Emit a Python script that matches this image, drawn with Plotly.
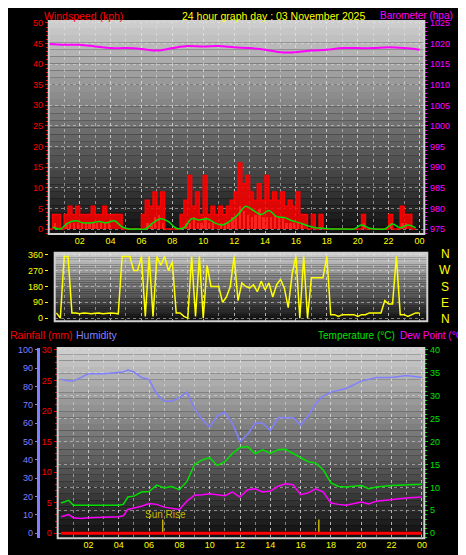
import numpy as np
import plotly.graph_objects as go

W, H = 466, 555
# ---------------- data ----------------
gust = [0,3.5,3.5,0, 3.5,5.5,3.5,5.5, 3.5,3.5,3.5,5.5, 3.5,3.5,5.5,3.5,
        3.5,3.5,3.5,0, 0,0,0,0, 3.5,7,5.5,9, 5.5,9,0,0,
        0,0,3.5,7, 13,5.5,9,3.5, 13,3.5,5.5,3.5, 5.5,3.5,5.5,7,
        9,16,11,13, 9,7,11,7, 13,7,9,7, 9,5.5,7,5.5,
        9,3.5,3.5,0, 3.5,0,3.5,0, 0,0,0,0, 0,0,0,0,
        0,3.5,0,0, 0,0,0,0, 3.5,0,0,5.5, 3.5,3.5,0,0]
speed = [0,1.5,0,0, 1.5,1.5,1.5,1.5, 1.5,1.5,1.5,1.5, 1.5,1.5,1.5,1.5,
         0,0,0,0, 0,0,0,0, 0,1.5,1.5,3, 3.5,1.5,0,0,
         0,0,0,1.5, 1.5,3,1.5,1.5, 3,1.5,1.5,0, 1.5,1.5,1.5,3,
         3,5.5,4.5,3.5, 3,3.5,5,3, 3,3,3.5,3, 3,1.5,1.5,1.5,
         1.5,1.5,0,0, 0,0,0,0, 0,0,0,0, 0,0,0,0,
         0,1.5,0,0, 0,0,0,0, 1.5,0,0,1.5, 1.5,0,0,0]
avg_wind = [0.5,0,1.5,2.0,1.5,1.5,1.8,1.5,2,0.5,0,0,0,1.5,2.5,1.8,0.2,0.3,2.5,2.2,
            2.5,1.5,1,2,3.5,5.5,4.5,3.5,4.5,3,2.8,2,1.5,0.8,0.3,0.2,0,0,0,0,
            1,0.2,0,0,1.2,0.3,1,0.3]
baro_hours = list(range(25))
baro = [1019.9,1019.7,1019.7,1019.3,1018.9,1018.9,1018.7,1018.3,1018.9,1019.4,1019.3,
        1019.4,1019.1,1018.9,1018.5,1017.9,1017.9,1018.3,1018.5,1018.9,1018.9,1018.9,
        1019.1,1018.9,1018.5]
wind_dir = [30,0,
            350,350,30,30, 25,30,28,25, 28,30,25,28, 30,28,25,350, 350,350,270,270,
            350,10,350,10, 350,300,350,270, 320,30,30,10, 0,350,10,350, 0,300,180,180,
            180,90,120,180, 350,100,200,180, 170,190,150,210, 160,200,120,190, 220,170,60,250,
            350,0,350,0, 230,230,230,230, 350,20,20,10, 20,20,20,20, 10,20,20,30,
            30,30,30,100, 80,80,350,20, 20,10,20,30, 30]
th_hours = [0.2,0.7,1,1.5,2,3,4,4.3,4.6,5,5.5,6,6.5,7,7.5,8,8.5,9,9.5,10,10.5,11,11.5,12,
            12.5,13,13.5,14,14.5,15,15.5,16,16.5,17,17.5,18,18.5,19,20,20.5,21,22,23,24]
humidity = [84,83,83,85,87,87,88,88,89,88,85,84,76,72,72,74,77,68,62,58,64,66,60,50,
            54,60,60,56,63,63,63,59,64,71,75,77,78,79,83,84,85,85,86,85]
temperature = [6.6,7.2,6.1,6.1,6.1,6.2,6.1,6.3,7.9,8.1,9,9.1,10.5,9.9,10.2,9.5,11.3,15,16,16.5,
               14.8,15.6,17.4,18.7,18.9,17.4,18.2,17.4,18.2,18.3,17.4,16.4,15.6,15.3,13.8,11,
               10.2,10.1,10.4,9.7,10.1,10.4,10.6,10.7]
dewpoint = [3.6,4.1,3.4,3.2,3.4,3.5,3.6,3.8,5.2,5.5,5.9,6.5,6.3,5.7,5.5,5.2,7,8.3,8.4,8.6,
            8.4,8.2,9,7.9,9.5,9.7,9,9.2,10.2,10.8,10.6,8.4,8.8,9.7,9,6.6,6.3,6.1,6.8,6.4,
            7,7.4,7.7,7.9]
rain_hours = [0.2, 24]
rainfall = [0, 0]
sun_events = [6.9, 17.2]
hour_ticks = [2,4,6,8,10,12,14,16,18,20,22,24]
hour_labels = ['02','04','06','08','10','12','14','16','18','20','22','00']

t15 = np.arange(len(gust)) * 0.25
t30 = np.arange(len(avg_wind)) * 0.5 + 0.25
tdir = 0.5 + np.arange(len(wind_dir)) * 0.25

def dx(a, b): return [a / W, b / W]
def dy(top, bot): return [1 - bot / H, 1 - top / H]

FONT = "Liberation Sans"
YEL = "#ffff00"; RED = "#ff0000"; MAG = "#ff00ff"; GRN = "#00e000"; BLU = "#8080ff"

fig = go.Figure()
fig.add_trace(go.Scatter(x=t15, y=gust, mode='lines', line=dict(color=RED, width=1.5, shape='hv'),
                         fill='tozeroy', fillcolor='rgba(255,0,0,0.85)', xaxis='x', yaxis='y'))
fig.add_trace(go.Bar(x=t15 + 0.125, y=speed, width=0.15, marker=dict(color='#d8f0d8', line_width=0),
                     xaxis='x', yaxis='y'))
fig.add_trace(go.Scatter(x=t30, y=avg_wind, mode='lines', line=dict(color=GRN, width=1.5, shape='spline'),
                         xaxis='x', yaxis='y'))
fig.add_trace(go.Scatter(x=baro_hours, y=baro, mode='lines', line=dict(color=MAG, width=2, shape='spline'),
                         xaxis='x', yaxis='y2'))
fig.add_trace(go.Scatter(x=tdir, y=wind_dir, mode='lines', line=dict(color=YEL, width=1.5),
                         xaxis='x2', yaxis='y3'))
fig.add_trace(go.Scatter(x=th_hours, y=humidity, mode='lines', line=dict(color=BLU, width=1.5),
                         xaxis='x3', yaxis='y5'))
fig.add_trace(go.Scatter(x=th_hours, y=temperature, mode='lines', line=dict(color=GRN, width=1.5),
                         xaxis='x3', yaxis='y4'))
fig.add_trace(go.Scatter(x=th_hours, y=dewpoint, mode='lines', line=dict(color=MAG, width=1.5),
                         xaxis='x3', yaxis='y4'))
fig.add_trace(go.Scatter(x=rain_hours, y=rainfall, mode='lines', line=dict(color=RED, width=3),
                         xaxis='x3', yaxis='y6'))
for s in sun_events:
    fig.add_trace(go.Scatter(x=[s, s], y=[0, 3], mode='lines', line=dict(color='#c8b400', width=1.5),
                             xaxis='x3', yaxis='y4'))

shapes = []
for xr, yr in [('x', 'y'), ('x2', 'y3'), ('x3', 'y4')]:
    n = 30
    for i in range(n):
        g = int(205 - (205 - 18) * i / (n - 1))
        shapes.append(dict(type='rect', xref=f'{xr} domain', yref=f'{yr} domain', x0=0, x1=1,
                           y0=1 - (i + 1) / n, y1=1 - i / n, fillcolor=f'rgb({g},{g},{g})',
                           line_width=0, layer='below'))
    shapes.append(dict(type='rect', xref=f'{xr} domain', yref=f'{yr} domain', x0=0, x1=1, y0=0, y1=1,
                       line=dict(color='#d0d0d0', width=2), layer='above'))

grid = dict(showgrid=True, gridcolor='rgba(230,230,230,0.5)', griddash='dot', gridwidth=1)
tf = dict(family=FONT, size=9)
def xcommon(show=True):
    return dict(tickvals=hour_ticks, ticktext=hour_labels, tickfont=dict(color=YEL, **tf), zeroline=False,
                showticklabels=show, ticks='',
                minor=dict(dtick=1, tick0=0, showgrid=True, gridcolor='rgba(230,230,230,0.5)', griddash='dot'),
                **grid)

fig.update_layout(
    width=W, height=H, margin=dict(l=0, r=0, t=0, b=0),
    paper_bgcolor='black', plot_bgcolor='black', showlegend=False, bargap=0,
    shapes=shapes,
    xaxis=dict(domain=dx(41, 419), range=[0, 24.31], anchor='y', **xcommon()),
    yaxis=dict(domain=dy(10, 225), range=[-1.2, 50.48], dtick=5, tickfont=dict(color=RED, **tf),
               ticks='outside', tickcolor=RED, ticklen=3, minor=dict(dtick=1, ticks='outside', ticklen=2, tickcolor=RED),
               zeroline=False, **grid),
    yaxis2=dict(overlaying='y', side='right', range=[973.8, 1025.5], dtick=5, anchor='x',
                tickfont=dict(color=MAG, **tf), ticks='outside', tickcolor=MAG, ticklen=3,
                minor=dict(dtick=1, ticks='outside', ticklen=2, tickcolor=MAG), showgrid=False, zeroline=False),
    xaxis2=dict(domain=dx(47, 422), range=[0.386, 24.5], anchor='y3', **xcommon(False)),
    yaxis3=dict(domain=dy(244, 313), range=[-17, 371], tickvals=[0, 90, 180, 270, 360],
                tickfont=dict(color=YEL, **tf), ticks='outside', tickcolor=YEL, ticklen=3, zeroline=False, **grid),
    xaxis3=dict(domain=dx(50, 419), range=[-0.03, 24.16], anchor='y4', **xcommon()),
    yaxis4=dict(domain=dy(340, 532), range=[-1.08, 40.43], dtick=5, side='right', anchor='x3',
                tickfont=dict(color=GRN, **tf), ticks='outside', tickcolor=GRN, ticklen=3,
                minor=dict(dtick=1, ticks='outside', ticklen=2, tickcolor=GRN), zeroline=False, **grid),
    yaxis5=dict(overlaying='y4', anchor='free', position=30 / W, range=[-2.7, 101.1], dtick=10,
                tickfont=dict(color=BLU, **tf), showline=True, linecolor=BLU, linewidth=3,
                ticks='outside', tickcolor=BLU, ticklen=2, showgrid=False, zeroline=False),
    yaxis6=dict(overlaying='y4', anchor='free', position=49 / W, range=[-0.81, 30.32], dtick=5,
                tickfont=dict(color=RED, **tf), ticks='outside', tickcolor=RED, ticklen=3,
                minor=dict(dtick=1, ticks='outside', ticklen=2, tickcolor=RED), showgrid=False, zeroline=False),
)

def txt(x, y, s, c, size=10.5, xa='left'):
    fig.add_annotation(x=x / W, y=1 - y / H, xref='paper', yref='paper', text=s, showarrow=False,
                       font=dict(family=FONT, size=size, color=c), xanchor=xa, yanchor='middle')

txt(34, 5, 'Windspeed (kph)', RED)
txt(173, 5, '24 hour graph day : 03 November 2025', YEL)
txt(372, 5, 'Barometer (hpa)', MAG, 10)
for lab, yy in zip(['N', 'W', 'S', 'E', 'N'], [245, 261, 279, 295, 311]):
    txt(440, yy, lab, YEL, 12, 'center')
txt(0, 327, 'Rainfall (mm)', RED)
txt(66, 327, 'Humidity', BLU)
txt(392, 327, 'Temperature (°C)', GRN, 10, 'right')
txt(393, 327, 'Dew Point (°C)', MAG, 10)
txt(136, 508, 'Sun Rise', '#c8b400', 10)

fig.write_html("out.html")
